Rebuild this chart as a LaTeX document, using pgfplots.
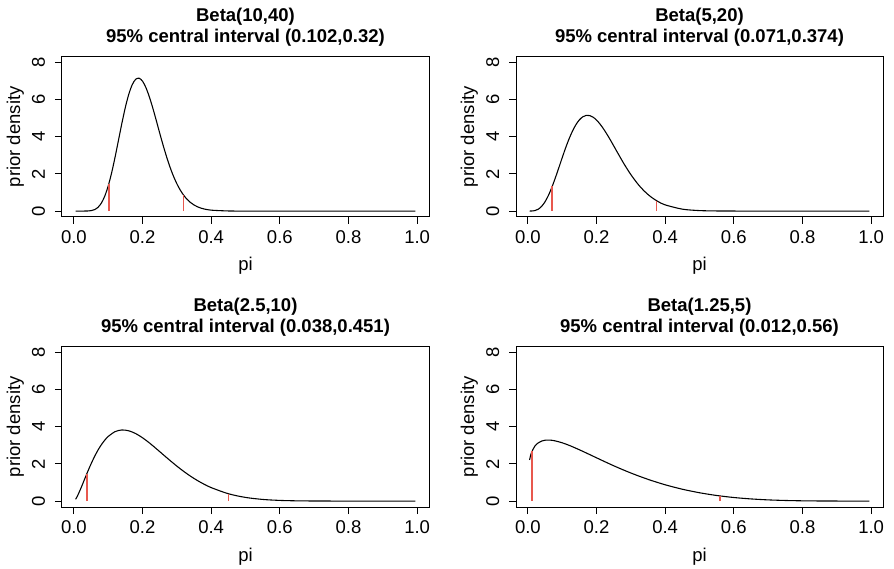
\documentclass[border=0pt]{standalone}
\usepackage{fontspec}
\setmainfont{Liberation Sans}
\usepackage{pgfplots}
\pgfplotsset{compat=1.18}
\definecolor{rline}{RGB}{232,88,78}
\pgfplotsset{
 rpanel/.style={
  anchor=south west, scale only axis, width=220.2pt, height=96.3pt,
  xmin=-0.0346, xmax=1.0346, ymin=-0.32, ymax=8.32,
  xtick={0,0.2,0.4,0.6,0.8,1}, ytick={0,2,4,6,8},
  tick align=outside, tick pos=left, major tick length=4.2pt,
  axis line style={line width=0.6pt},
  major tick style={black, line width=0.6pt},
  font=\fontsize{11.1}{13.3}\selectfont,
  /pgf/number format/assume math mode=true,
  xticklabel style={/pgf/number format/fixed, /pgf/number format/fixed zerofill, /pgf/number format/precision=1, anchor=base},
  xticklabel shift=11.8pt,
  yticklabel style={rotate=90, anchor=base}, yticklabel shift=6pt,
  xlabel={pi}, ylabel={prior density},
  xlabel style={at={(axis description cs:0.5,0)}, anchor=base, yshift=-32.4pt},
  ylabel style={at={(axis description cs:-0.127,0.5)}, anchor=center},
  clip=false,
 },
 curve/.style={black, line width=0.65pt, smooth, no marks},
 qline/.style={rline, line width=0.9pt, no marks},
}
\newcommand{\ttl}[2]{%
  \node[anchor=base, font=\fontsize{11.1}{13.3}\selectfont\bfseries] at (rel axis cs:0.5,1) [yshift=21.2pt] {#1};
  \node[anchor=base, font=\fontsize{11.1}{13.3}\selectfont\bfseries] at (rel axis cs:0.5,1) [yshift=8.2pt] {#2};
}
\begin{document}
\begin{tikzpicture}
\path[use as bounding box] (0,0) rectangle (536.4pt,340.8pt);

% Top left: Beta(10,40)
\begin{axis}[rpanel, at={(37.2pt,210.6pt)}]
\addplot[curve] coordinates {(0.005,0) (0.02,0) (0.03,0.0005) (0.04,0.0044) (0.05,0.0217) (0.06,0.0741) (0.07,0.1957) (0.08,0.4266) (0.09,0.8043) (0.10,1.350) (0.11,2.059) (0.12,2.901) (0.13,3.816) (0.14,4.736) (0.15,5.585) (0.16,6.290) (0.17,6.801) (0.18,7.093) (0.19,7.150) (0.20,6.994) (0.21,6.640) (0.22,6.141) (0.23,5.541) (0.24,4.880) (0.25,4.200) (0.26,3.543) (0.27,2.927) (0.28,2.370) (0.29,1.885) (0.30,1.471) (0.31,1.128) (0.32,0.849) (0.33,0.628) (0.34,0.457) (0.35,0.328) (0.36,0.230) (0.37,0.159) (0.38,0.109) (0.40,0.048) (0.45,0.0046) (0.50,0.0003) (0.60,0) (0.80,0) (0.995,0)};
\addplot[qline] coordinates {(0.102,0) (0.102,1.479)};
\addplot[qline] coordinates {(0.32,0) (0.32,0.849)};
\ttl{Beta(10,40)}{95\% central interval (0.102,0.32)}
\end{axis}

% Top right: Beta(5,20)
\begin{axis}[rpanel, at={(309.6pt,210.6pt)}]
\addplot[curve] coordinates {(0.005,0.0001) (0.01,0.0018) (0.02,0.0232) (0.03,0.0965) (0.04,0.2503) (0.05,0.501) (0.06,0.849) (0.07,1.285) (0.08,1.786) (0.09,2.323) (0.10,2.872) (0.11,3.401) (0.12,3.885) (0.13,4.306) (0.14,4.650) (0.15,4.908) (0.16,5.073) (0.17,5.150) (0.18,5.140) (0.19,5.053) (0.20,4.899) (0.21,4.688) (0.22,4.433) (0.23,4.146) (0.24,3.838) (0.25,3.511) (0.26,3.184) (0.27,2.860) (0.28,2.542) (0.29,2.246) (0.30,1.962) (0.32,1.464) (0.34,1.059) (0.36,0.741) (0.38,0.504) (0.40,0.332) (0.45,0.102) (0.50,0.0253) (0.55,0.0050) (0.60,0.0008) (0.70,0) (0.85,0) (0.995,0)};
\addplot[qline] coordinates {(0.071,0) (0.071,1.328)};
\addplot[qline] coordinates {(0.374,0) (0.374,0.566)};
\ttl{Beta(5,20)}{95\% central interval (0.071,0.374)}
\end{axis}

% Bottom left: Beta(2.5,10)
\begin{axis}[rpanel, at={(37.2pt,36.6pt)}]
\addplot[curve] coordinates {(0.005,0.0959) (0.01,0.259) (0.02,0.669) (0.03,1.121) (0.04,1.573) (0.05,1.998) (0.06,2.389) (0.07,2.735) (0.08,3.031) (0.09,3.277) (0.10,3.476) (0.12,3.736) (0.14,3.827) (0.16,3.781) (0.18,3.633) (0.20,3.407) (0.22,3.130) (0.24,2.821) (0.26,2.502) (0.28,2.186) (0.30,1.881) (0.32,1.597) (0.34,1.336) (0.36,1.104) (0.38,0.900) (0.40,0.724) (0.45,0.394) (0.50,0.196) (0.55,0.0875) (0.60,0.0346) (0.65,0.0117) (0.70,0.0033) (0.75,0.0007) (0.85,0) (0.995,0)};
\addplot[qline] coordinates {(0.038,0) (0.038,1.470)};
\addplot[qline] coordinates {(0.451,0) (0.451,0.389)};
\ttl{Beta(2.5,10)}{95\% central interval (0.038,0.451)}
\end{axis}

% Bottom right: Beta(1.25,5)
\begin{axis}[rpanel, at={(309.6pt,36.6pt)}]
\addplot[curve] coordinates {(0.005,2.214) (0.01,2.583) (0.02,2.948) (0.03,3.130) (0.04,3.228) (0.05,3.274) (0.06,3.284) (0.07,3.271) (0.08,3.238) (0.10,3.136) (0.12,3.001) (0.14,2.843) (0.16,2.676) (0.18,2.503) (0.20,2.328) (0.25,1.900) (0.30,1.510) (0.35,1.168) (0.40,0.876) (0.45,0.637) (0.50,0.447) (0.55,0.300) (0.60,0.191) (0.65,0.1145) (0.70,0.0630) (0.75,0.0309) (0.80,0.0129) (0.85,0.0041) (0.90,0.0008) (0.95,0.0001) (0.995,0)};
\addplot[qline] coordinates {(0.012,0) (0.012,2.680)};
\addplot[qline] coordinates {(0.56,0) (0.56,0.276)};
\ttl{Beta(1.25,5)}{95\% central interval (0.012,0.56)}
\end{axis}
\end{tikzpicture}
\end{document}
